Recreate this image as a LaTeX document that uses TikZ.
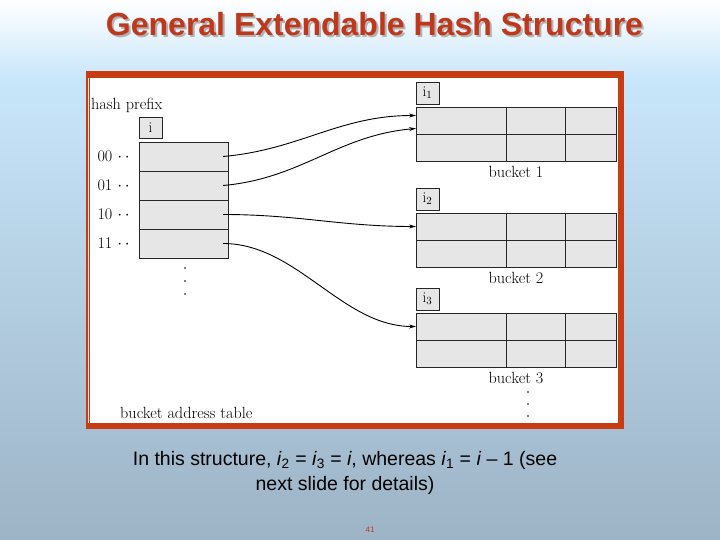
\documentclass[tikz,border=0pt]{standalone}
\usepackage{fontspec}
\newfontfamily\arialfont{Liberation Sans}
\usetikzlibrary{arrows.meta, positioning}
\definecolor{bglight}{RGB}{200,230,250}
\definecolor{bgbot}{RGB}{157,179,198}
\definecolor{framered}{RGB}{200,60,20}
\definecolor{titlered}{RGB}{192,56,28}
\definecolor{cellgray}{RGB}{230,230,230}

\begin{document}
\begin{tikzpicture}[
    x=1pt, y=-1pt,
    node distance=0pt,
    cell/.style={rectangle, draw=black!85, fill=cellgray, line width=0.9pt, minimum height=27pt, inner sep=0pt, outer sep=0pt},
    ibox/.style={cell, minimum width=23pt, minimum height=22pt, font=\fontsize{15}{17}\selectfont},
    lbl/.style={inner sep=0pt, font=\fontsize{16.2}{19}\selectfont},
    arrow/.style={-{Stealth[length=7pt, width=4pt]}, line width=0.9pt},
    title/.style={font=\arialfont\bfseries\fontsize{32}{36}\selectfont}
]
    % --- Background and frame ---
    \useasboundingbox (0,0) rectangle (720,540);
    \shade[top color=white, bottom color=bglight] (0,0) rectangle (720,80);
    \shade[top color=bglight, bottom color=bgbot] (0,80) rectangle (720,540);
    \fill[framered] (86,71) rectangle (624,429);
    \fill[white] (90,78) rectangle (618,423);
    \draw[white!90!framered, line width=0.8pt] (88,78) -- (88,423);

    % --- Title ---
    \node[title, text=black!30] (tshadow) at (376.5,26) {General Extendable Hash Structure};
    \node[title, text=titlered] (title) at (374.5,24) {General Extendable Hash Structure};

    % --- Bucket address table ---
    \node[lbl, anchor=west] (hprefix) at (91,105) {hash prefix};
    \node[cell, minimum width=89pt, minimum height=29pt, anchor=north west] (t00) at (139,142) {};
    \node[cell, minimum width=89pt, minimum height=29pt, below=of t00] (t01) {};
    \node[cell, minimum width=89pt, minimum height=29pt, below=of t01] (t10) {};
    \node[cell, minimum width=89pt, minimum height=29pt, below=of t10] (t11) {};
    \node[ibox, minimum height=21pt, above right=4pt and 0pt of t00.north west] (idepth) {i};

    \foreach \r/\bits in {t00/00, t01/01, t10/10, t11/11}
        \node[lbl, anchor=east] (l\bits) at ([xshift=-9pt]\r.west) {\bits\ $\cdot\,\cdot$};

    \foreach \yy in {268,281,294}
        \fill (185,\yy) circle (0.8pt);
    \node[lbl, anchor=west] (battable) at (120,413) {bucket address table};

    % --- Buckets ---
    \foreach \k/\yb in {1/107, 2/213, 3/313} {
        \node[cell, minimum width=90pt, anchor=north west] (b\k a) at (416,\yb) {};
        \node[cell, minimum width=59pt, right=of b\k a] (b\k b) {};
        \node[cell, minimum width=51pt, right=of b\k b] (b\k c) {};
        \node[cell, minimum width=90pt, below=of b\k a] (b\k d) {};
        \node[cell, minimum width=59pt, right=of b\k d] (b\k e) {};
        \node[cell, minimum width=51pt, right=of b\k e] (b\k f) {};
        \node[ibox, above right=3pt and 0pt of b\k a.north west] (i\k) {i$_{\k}$};
        \node[lbl] (bl\k) at (516,\yb+65) {bucket \k};
    }
    \foreach \yy in {392,404,416}
        \fill (528,\yy) circle (0.8pt);

    % --- Pointers ---
    \draw[arrow] ([xshift=-5pt]t00.east) to[out=5, in=180] ([yshift=5pt]b1a.west);
    \draw[arrow] ([xshift=-5pt]t01.east) to[out=5, in=185] ([yshift=-8pt]b1a.west);
    \draw[arrow] ([xshift=-5pt]t10.east) to[out=0, in=180] (b2a.west);
    \draw[arrow] ([xshift=-5pt]t11.east) to[out=0, in=180, looseness=0.9] (b3a.west);

    % --- Caption ---
    \node[font=\arialfont\fontsize{19.5}{25}\selectfont, align=center] (caption) at (345,473)
        {In this structure, \textit{i}\textsubscript{2} = \textit{i}\textsubscript{3} = \textit{i}, whereas \textit{i}\textsubscript{1} = \textit{i} \textendash\ 1 (see\\ next slide for details)};
    \node[font=\arialfont\fontsize{8}{10}\selectfont, text=titlered] (pagenum) at (370,530) {41};

\end{tikzpicture}
\end{document}
